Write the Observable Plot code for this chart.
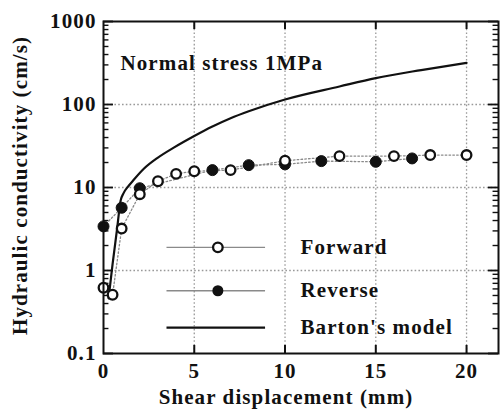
<!DOCTYPE html>
<html>
<head>
<meta charset="utf-8">
<script src="https://cdn.jsdelivr.net/npm/d3@7"></script>
<script src="https://cdn.jsdelivr.net/npm/@observablehq/plot@0.6"></script>
<style>
  html, body { margin: 0; padding: 0; background: #fff; }
  #chart svg { display: block; }
</style>
</head>
<body>
<div id="chart"></div>
<script>
// ---- data ----
const forwardX = [0, 0.5, 1, 2, 3, 4, 5, 7, 10, 13, 16, 18, 20];
const forwardY = [0.62, 0.51, 3.2, 8.3, 11.9, 14.6, 15.7, 16.2, 21, 23.9, 23.9, 24.6, 24.6];
const reverseX = [0, 1, 2, 6, 8, 10, 12, 15, 17];
const reverseY = [3.4, 5.7, 9.8, 16.2, 18.6, 19, 20.8, 20.4, 22.4];
const bartonX = [0.28, 0.5, 0.75, 0.94, 1.1, 1.39, 1.67, 2.22, 2.96, 3.87, 5, 6, 7, 8, 10, 13, 15, 17.5, 20];
const bartonY = [0.46, 1.19, 3.2, 6.9, 8.5, 10.5, 12.4, 16.8, 22.6, 30.2, 41.7, 54.3, 68.4, 83, 115, 165, 208, 260, 318];
const xTicks = [0, 5, 10, 15, 20];
const xGrid = [5, 10, 15, 20];
const yTicks = [0.1, 1, 10, 100, 1000];
const yTickLabels = ["0.1", "1", "10", "100", "1000"];
const yGrid = [1, 10, 100];
const legendLabels = ["Forward", "Reverse", "Barton's model"];
const titleText = "Normal stress 1MPa";
const xLabel = "Shear displacement (mm)";
const yLabel = "Hydraulic conductivity (cm/s)";

const forward = forwardX.map((x, i) => ({x, y: forwardY[i]}));
const reverse = reverseX.map((x, i) => ({x, y: reverseY[i]}));
const barton = bartonX.map((x, i) => ({x, y: bartonY[i]}));
const minorY = [];
for (const d of [0.1, 1, 10, 100]) for (let k = 2; k <= 9; k++) minorY.push(d * k);

const X0 = 0, X1 = 21.76;
const majorLen = 0.55, minorLen = 0.3;   // x-units for y ticks
const font = "Liberation Serif, Times New Roman, serif";
const dotted = {stroke: "#8a8a8a", strokeWidth: 1.3, strokeDasharray: "1.6,2.2"};

// legend rows (data coords inside the frame)
const legend = [
  {label: legendLabels[0], y: 1.9, kind: "open"},
  {label: legendLabels[1], y: 0.57, kind: "filled"},
  {label: legendLabels[2], y: 0.205, kind: "solid"}
];
const lgX1 = 3.47, lgX2 = 8.9, lgXm = 6.3, lgXt = 10.85;

const chart = Plot.plot({
  width: 500,
  height: 415,
  marginLeft: 103,
  marginRight: 2,
  marginTop: 21,
  marginBottom: 62,
  style: {fontFamily: font, fontSize: "21px", letterSpacing: "1.1px", color: "#111", background: "#fff"},
  x: {domain: [X0, X1], axis: null},
  y: {type: "log", domain: [0.1, 1000], axis: null},
  marks: [
    // grid
    Plot.ruleX(xGrid, {...dotted, stroke: "#999"}),
    Plot.ruleY(yGrid, {...dotted, stroke: "#999"}),
    // ticks (inward)
    Plot.ruleY(yTicks, {x1: X0, x2: X0 + majorLen, stroke: "#111", strokeWidth: 1.8}),
    Plot.ruleY(minorY, {x1: X0, x2: X0 + minorLen, stroke: "#111", strokeWidth: 1.4}),
    Plot.ruleY(yTicks, {x1: X1, x2: X1 - majorLen, stroke: "#111", strokeWidth: 1.8}),
    Plot.ruleY(minorY, {x1: X1, x2: X1 - minorLen, stroke: "#111", strokeWidth: 1.4}),
    Plot.ruleX(xGrid, {y1: 0.1, y2: 0.125, stroke: "#111", strokeWidth: 2}),
    Plot.ruleX(xGrid, {y1: 1000, y2: 800, stroke: "#111", strokeWidth: 2}),
    // series lines
    Plot.line(forward, {x: "x", y: "y", ...dotted}),
    Plot.line(reverse, {x: "x", y: "y", ...dotted}),
    Plot.line(barton, {x: "x", y: "y", stroke: "#111", strokeWidth: 2.2, curve: "monotone-x"}),
    // points
    Plot.dot(reverse, {x: "x", y: "y", r: 5.5, fill: "#111", stroke: "#111", strokeWidth: 1}),
    Plot.dot(forward, {x: "x", y: "y", r: 4.8, fill: "#fff", stroke: "#111", strokeWidth: 2.3}),
    // legend
    Plot.link(legend, {x1: () => lgX1, x2: () => lgX2, y1: "y", y2: "y",
      stroke: d => d.kind === "solid" ? "#111" : "#8a8a8a",
      strokeWidth: d => d.kind === "solid" ? 2.2 : 1.3,
      strokeDasharray: d => d.kind === "solid" ? null : "1.6,2.2"}),
    Plot.dot(legend.filter(d => d.kind === "open"), {x: () => lgXm, y: "y", r: 4.8, fill: "#fff", stroke: "#111", strokeWidth: 2.3}),
    Plot.dot(legend.filter(d => d.kind === "filled"), {x: () => lgXm, y: "y", r: 5.5, fill: "#111"}),
    Plot.text(legend, {x: () => lgXt, y: "y", text: "label", textAnchor: "start", fontWeight: "bold", fill: "#111"}),
    // annotation
    Plot.text([titleText], {frameAnchor: "top-left", dx: 17, dy: 34, textAnchor: "start", fontWeight: "bold", fill: "#111"}),
    // frame
    Plot.frame({stroke: "#111", strokeWidth: 2}),
    // tick labels
    Plot.text(xTicks, {x: d => d, frameAnchor: "bottom", dy: 24, text: d => String(d), fontWeight: "bold", fill: "#111"}),
    Plot.text(yTicks, {y: d => d, frameAnchor: "left", dx: -7, textAnchor: "end", text: (d, i) => yTickLabels[i], fontWeight: "bold", fill: "#111"}),
    // axis titles
    Plot.text([xLabel], {frameAnchor: "bottom", dx: -15, dy: 50, textAnchor: "middle", fontWeight: "bold", fill: "#111"}),
    Plot.text([yLabel], {frameAnchor: "left", dx: -83, dy: -2, rotate: -90, textAnchor: "middle", fontWeight: "bold", fill: "#111"})
  ]
});
document.getElementById("chart").appendChild(chart);
</script>
</body>
</html>
